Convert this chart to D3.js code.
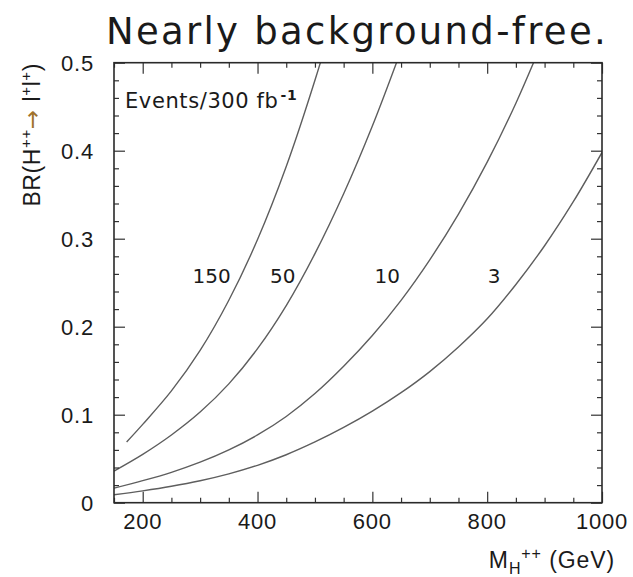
<!DOCTYPE html>
<html>
<head>
<meta charset="utf-8">
<script src="https://cdn.jsdelivr.net/npm/d3@7"></script>
<style>
  html, body { margin: 0; padding: 0; background: #fff; }
  svg { display: block; }
</style>
</head>
<body>
<svg id="chart" width="633" height="577"></svg>
<script>
// Contours of constant event yield (per 300 fb^-1) in the plane of
// doubly-charged Higgs mass vs. its same-sign dilepton branching ratio.
const massGeV   = [150, 200, 250, 300, 350, 400, 450, 500, 550, 600, 650, 700, 750, 800, 850, 900, 950, 1000];
const events150 = [null, 0.089, 0.127, 0.173, 0.230, 0.299, 0.382, 0.480, 0.590];
const events50  = [0.036, 0.055, 0.077, 0.103, 0.135, 0.175, 0.224, 0.283, 0.351, 0.428, 0.514];
const events10  = [0.0165, 0.025, 0.0345, 0.046, 0.060, 0.077, 0.098, 0.124, 0.155, 0.190, 0.230, 0.276, 0.328, 0.387, 0.454, 0.530];
const events3   = [0.009, 0.0135, 0.0187, 0.025, 0.0328, 0.0425, 0.0545, 0.069, 0.0855, 0.104, 0.125, 0.149, 0.177, 0.209, 0.248, 0.292, 0.342, 0.398];
// the 150-event contour starts at a slightly higher mass
const events150Start = [172, 0.069];

const contourNames  = ["150", "50", "10", "3"];
const labelMass     = [320, 444, 626, 812];
const labelBR       = [0.25, 0.25, 0.25, 0.25];

const xTickLabels = [200, 400, 600, 800, 1000];
const yTickLabels = [0, 0.1, 0.2, 0.3, 0.4, 0.5];

const svg = d3.select("#chart");
const frameL = 114, frameR = 602, frameT = 62.7, frameB = 502.7;

const x = d3.scaleLinear().domain([150, 1000]).range([frameL, frameR]);
const y = d3.scaleLinear().domain([0, 0.5]).range([frameB, frameT]);

// Title
svg.append("text")
  .attr("x", 357).attr("y", 44)
  .attr("text-anchor", "middle")
  .attr("font-family", "DejaVu Sans")
  .attr("font-size", 37)
  .attr("letter-spacing", 2.3)
  .attr("fill", "#1a1a1a")
  .text("Nearly background-free.");

// Clip the contours to the frame
svg.append("defs").append("clipPath").attr("id", "plotArea")
  .append("rect").attr("x", frameL).attr("y", frameT)
  .attr("width", frameR - frameL).attr("height", frameB - frameT);

function toPoints(vals) {
  return vals.map((v, i) => [massGeV[i], v]).filter(d => d[1] !== null);
}
const series = [
  [events150Start].concat(toPoints(events150)),
  toPoints(events50),
  toPoints(events10),
  toPoints(events3)
];

const line = d3.line()
  .x(d => x(d[0])).y(d => y(d[1]))
  .curve(d3.curveCatmullRom.alpha(0.5));

svg.append("g").attr("clip-path", "url(#plotArea)")
  .selectAll("path").data(series).join("path")
  .attr("d", line)
  .attr("fill", "none")
  .attr("stroke", "#5e5e5e")
  .attr("stroke-width", 1.4);

// Contour labels
svg.append("g").selectAll("text").data(contourNames).join("text")
  .attr("x", (d, i) => x(labelMass[i]))
  .attr("y", (d, i) => y(labelBR[i]))
  .attr("text-anchor", "middle")
  .attr("font-family", "DejaVu Sans")
  .attr("font-size", 20)
  .attr("fill", "#1a1a1a")
  .text(d => d);

// Inward frame ticks on all four sides: minor every 50 GeV / 0.02, major every 200 GeV / 0.1
const xMinor = d3.range(150, 1001, 50).filter(v => v % 200 !== 0);
const xMajor = d3.range(200, 1001, 200);
const yMinor = d3.range(0, 26).map(i => i * 0.02).filter((v, i) => i % 5 !== 0);
const yMajor = d3.range(0, 6).map(i => i * 0.1);

function tickGroup(axis, tx, ty) {
  const g = svg.append("g").attr("transform", `translate(${tx},${ty})`).call(axis);
  g.select(".domain").remove();
  g.selectAll("text").remove();
  g.selectAll("line").attr("stroke", "#333").attr("stroke-width", 1.2);
}
[[xMinor, 5], [xMajor, 11]].forEach(([vals, len]) => {
  tickGroup(d3.axisBottom(x).tickValues(vals).tickSize(-len).tickFormat(""), 0, frameB);
  tickGroup(d3.axisTop(x).tickValues(vals).tickSize(-len).tickFormat(""), 0, frameT);
});
[[yMinor, 5], [yMajor, 11]].forEach(([vals, len]) => {
  tickGroup(d3.axisLeft(y).tickValues(vals).tickSize(-len).tickFormat(""), frameL, 0);
  tickGroup(d3.axisRight(y).tickValues(vals).tickSize(-len).tickFormat(""), frameR, 0);
});

// Frame
svg.append("rect")
  .attr("x", frameL).attr("y", frameT)
  .attr("width", frameR - frameL).attr("height", frameB - frameT)
  .attr("fill", "none").attr("stroke", "#2a2a2a").attr("stroke-width", 1.6);

// Tick labels
svg.append("g").selectAll("text").data(xTickLabels).join("text")
  .attr("x", d => x(d)).attr("y", 529)
  .attr("text-anchor", "middle")
  .attr("font-family", "Liberation Sans")
  .attr("font-size", 22).attr("letter-spacing", 0.8)
  .attr("fill", "#1a1a1a")
  .text(d => d);

svg.append("g").selectAll("text").data(yTickLabels).join("text")
  .attr("x", 94).attr("y", d => y(d)).attr("dy", "0.36em")
  .attr("text-anchor", "end")
  .attr("font-family", "Liberation Sans")
  .attr("font-size", 22).attr("letter-spacing", 0.8)
  .attr("fill", "#1a1a1a")
  .text(d => d === 0 ? "0" : d3.format(".1f")(d));

// In-plot annotation
const ann = svg.append("text")
  .attr("x", 125).attr("y", 108)
  .attr("font-family", "DejaVu Sans")
  .attr("font-size", 21)
  .attr("letter-spacing", 0.6)
  .attr("fill", "#1a1a1a");
ann.append("tspan").text("Events/300 fb");
ann.append("tspan").attr("font-size", 14).attr("font-weight", "bold")
  .attr("dx", 2).attr("dy", -8).text("-1");

// Axis titles
const xt = svg.append("text")
  .attr("x", 615).attr("y", 568)
  .attr("text-anchor", "end")
  .attr("font-family", "Liberation Sans")
  .attr("font-size", 23)
  .attr("letter-spacing", 0.9)
  .attr("fill", "#1a1a1a");
xt.append("tspan").text("M");
xt.append("tspan").attr("font-size", 16).attr("dy", 6).text("H");
xt.append("tspan").attr("font-size", 16).attr("dy", -15).text("++");
xt.append("tspan").attr("dy", 9).text(" (GeV)");

const yt = svg.append("text")
  .attr("transform", "translate(40,63) rotate(-90)")
  .attr("text-anchor", "end")
  .attr("font-family", "Liberation Sans")
  .attr("font-size", 23)
  .attr("letter-spacing", 0.6)
  .attr("fill", "#1a1a1a");
yt.append("tspan").text("BR(H");
yt.append("tspan").attr("font-size", 15).attr("dy", -9).text("++");
yt.append("tspan").attr("dy", 9).attr("font-family", "DejaVu Sans")
  .attr("fill", "#a0722c").text("\u2192 ");
yt.append("tspan").text("l");
yt.append("tspan").attr("font-size", 15).attr("dy", -9).text("+");
yt.append("tspan").attr("dy", 9).text("l");
yt.append("tspan").attr("font-size", 15).attr("dy", -9).text("+");
yt.append("tspan").attr("dy", 9).text(")");
</script>
</body>
</html>
